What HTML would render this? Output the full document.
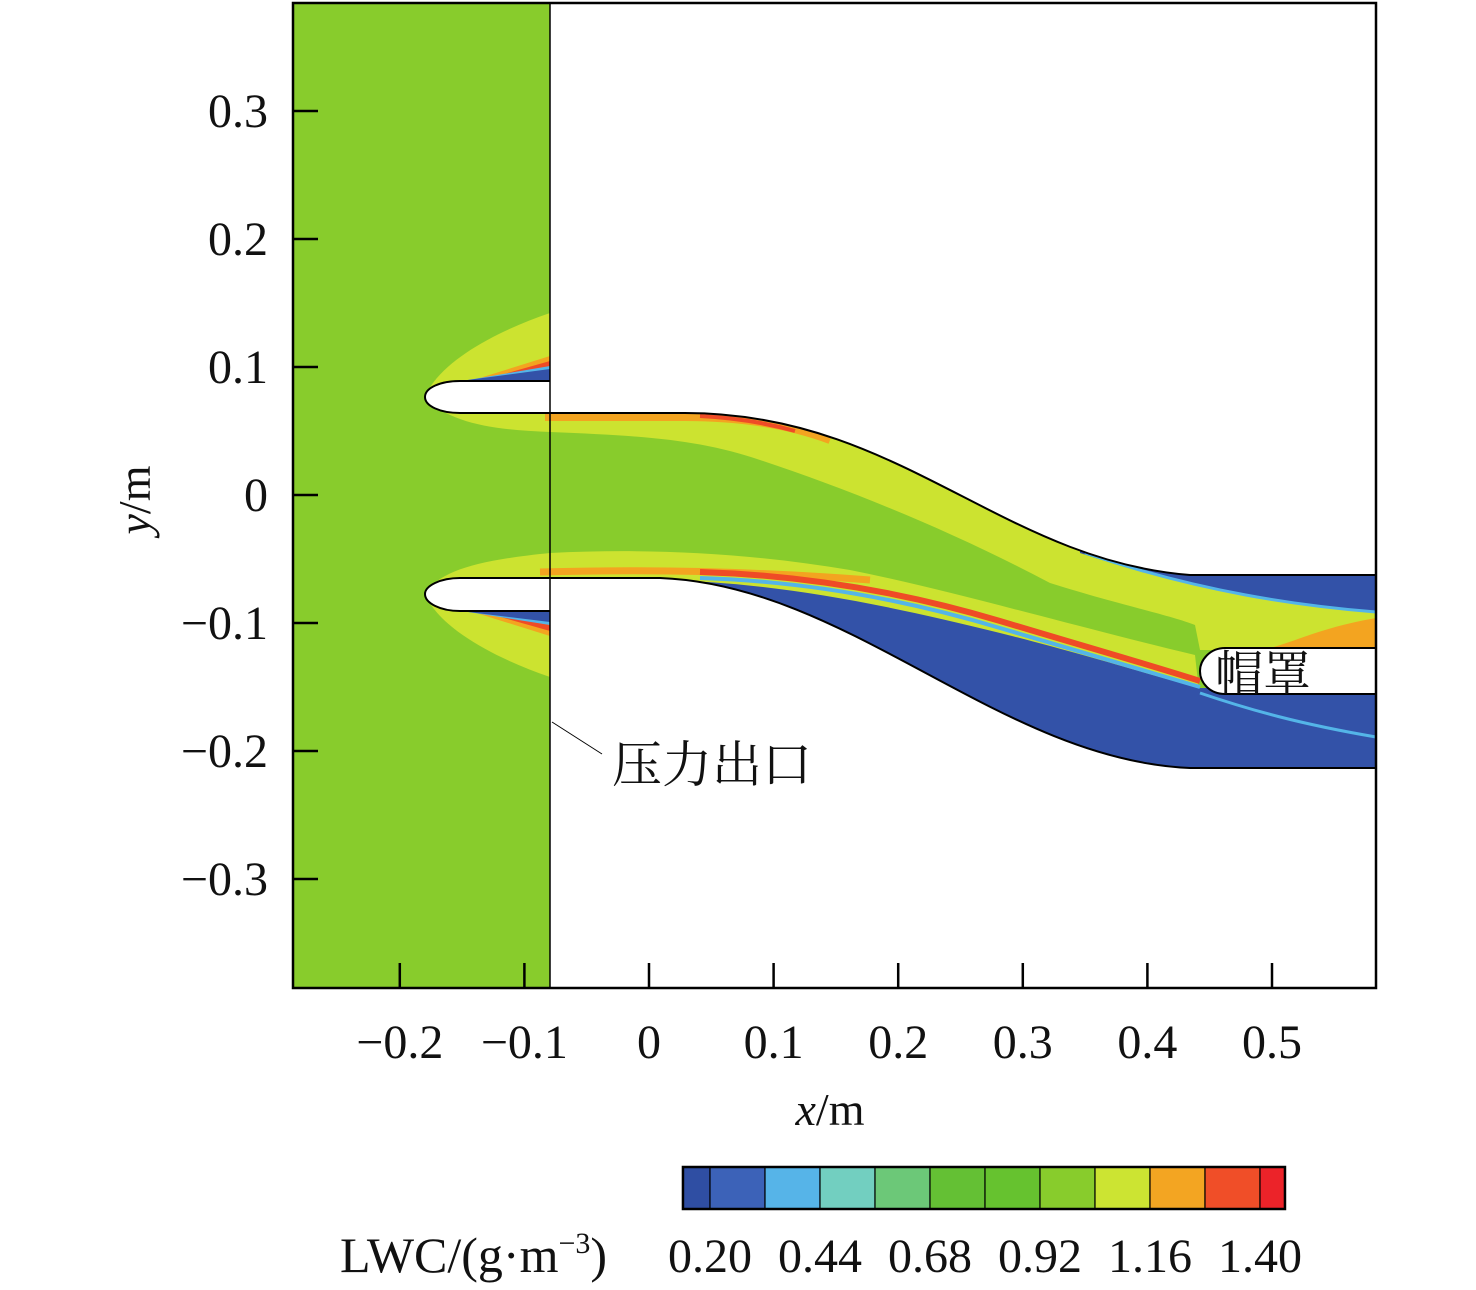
<!DOCTYPE html>
<html><head><meta charset="utf-8">
<style>
html,body{margin:0;padding:0;background:#fff;}
svg{display:block;}
text{font-family:"Liberation Serif","Noto Serif CJK SC",serif;fill:#111;}
</style></head>
<body>
<svg id="chart" width="1476" height="1290" viewBox="0 0 1476 1290" xmlns="http://www.w3.org/2000/svg">
<g id="field">
  <rect x="293" y="3" width="1083" height="985" fill="#88cc2c"/>
  <path d="M425,397 C440,360 500,330 550,313 L550,400 Z" fill="#cce330"/>
  <path d="M470,381 L550,356 L550,381 Z" fill="#f3a420"/>
  <path d="M490,378 L550,361 L550,368 Z" fill="#ef4b26"/>
  <path d="M462,381 L550,366 L550,381 Z" fill="#54b5e8"/>
  <path d="M460,381 L550,369 L550,381 Z" fill="#3352a8"/>
  <path d="M425,594 C440,630 500,660 550,677 L550,590 Z" fill="#cce330"/>
  <path d="M470,611 L550,636 L550,611 Z" fill="#f3a420"/>
  <path d="M490,614 L550,631 L550,625 Z" fill="#ef4b26"/>
  <path d="M462,611 L550,625 L550,611 Z" fill="#54b5e8"/>
  <path d="M460,611 L550,622 L550,611 Z" fill="#3352a8"/>
  <path d="M425,397 C450,425 500,430 550,432 C650,436 700,440 760,460 C850,490 950,530 1050,583 C1120,605 1170,615 1195,625 L1200,650 L1376,650 L1376,540 L600,380 Z" fill="#cce330"/>
  <path d="M545,417 L685,417 C740,417 790,425 830,440" fill="none" stroke="#f3a420" stroke-width="8"/>
  <path d="M700,416 C740,418 770,424 795,431" fill="none" stroke="#ef4b26" stroke-width="4"/>
  <path d="M425,594 C440,570 480,560 550,553 C650,548 750,553 850,570 C950,590 1050,620 1195,655 L1200,700 L660,600 L550,580 Z" fill="#cce330"/>
  <path d="M540,572 C650,569 750,571 870,580" fill="none" stroke="#f3a420" stroke-width="7"/>
  <path d="M660,580 C760,582 860,598 1000,633 C1080,653 1150,675 1200,688 L1376,688 L1376,775 L1190,775 C1000,760 850,585 660,578 Z" fill="#3352a8"/>
  <path d="M700,578 C800,581 900,598 1000,628 C1080,651 1150,672 1200,687" fill="none" stroke="#54b5e8" stroke-width="4"/>
  <path d="M700,572 C800,575 900,591 1000,621 C1080,645 1150,665 1200,681" fill="none" stroke="#ef4b26" stroke-width="6"/>
  <path d="M1200,693 C1250,710 1300,724 1376,737" fill="none" stroke="#54b5e8" stroke-width="3"/>
  <path d="M1080,550 C1150,570 1190,575 1376,575 L1376,612 C1300,606 1200,592 1080,553 Z" fill="#3352a8"/>
  <path d="M1085,553 C1200,592 1300,606 1376,612" fill="none" stroke="#54b5e8" stroke-width="3"/>
  <path d="M1270,648 C1300,640 1320,628 1376,618 L1376,648 Z" fill="#f3a420"/>
</g>
<path d="M550,3 L1376,3 L1376,575 L1190,575 C1000,560 900,413 685,413 L460,413 C440,413 425,406 425,397 C425,388 440,381 460,381 L550,381 Z" fill="#fff"/>
<path d="M550,381 L460,381 C440,381 425,388 425,397 C425,406 440,413 460,413 L685,413 C900,413 1000,560 1190,575 L1376,575" fill="none" stroke="#000" stroke-width="2"/>
<path d="M550,988 L1376,988 L1376,768 L1190,768 C1000,760 850,585 660,578 L460,578 C440,578 425,586 425,594 C425,603 440,611 460,611 L550,611 Z" fill="#fff"/>
<path d="M550,611 L460,611 C440,611 425,603 425,594 C425,586 440,578 460,578 L660,578 C850,585 1000,760 1190,768 L1376,768" fill="none" stroke="#000" stroke-width="2"/>
<line x1="550" y1="3" x2="550" y2="988" stroke="#000" stroke-width="1.5"/>
<path d="M1376,648 L1225,648 C1210,648 1200,660 1200,671 C1200,683 1210,694 1225,694 L1376,694" fill="#fff" stroke="#000" stroke-width="2"/>
<text x="1215" y="690" font-size="48">帽罩</text>
<line x1="552" y1="722" x2="602" y2="754" stroke="#000" stroke-width="1"/>
<text x="612" y="782" font-size="50">压力出口</text>
<rect x="293" y="3" width="1083" height="985" fill="none" stroke="#000" stroke-width="2.5"/>
<g id="axes"></g>
<g id="cbar"></g>
<text x="830" y="1125" font-size="46" text-anchor="middle"><tspan font-style="italic">x</tspan>/m</text>
<text transform="translate(150,500) rotate(-90)" font-size="46" text-anchor="middle"><tspan font-style="italic">y</tspan>/m</text>
<text x="340" y="1272" font-size="50">LWC/(g·m<tspan font-size="30" dy="-19">−3</tspan><tspan dy="19">)</tspan></text>
</svg>
<script>
const xTicks = [-0.2, -0.1, 0, 0.1, 0.2, 0.3, 0.4, 0.5];
const xTickLabels = ["−0.2", "−0.1", "0", "0.1", "0.2", "0.3", "0.4", "0.5"];
const yTicks = [0.3, 0.2, 0.1, 0, -0.1, -0.2, -0.3];
const yTickLabels = ["0.3", "0.2", "0.1", "0", "−0.1", "−0.2", "−0.3"];
const cbarColors = ["#2f4ea3","#3c62b8","#56b4e8","#72cfc0","#6cc878","#64c034","#66c22f","#88cc2c","#cce432","#f3a522","#f04e28","#ec2329"];
const cbarBounds = [0.141, 0.20, 0.32, 0.44, 0.56, 0.68, 0.80, 0.92, 1.04, 1.16, 1.28, 1.40, 1.4545];
const cbarLabelVals = [0.20, 0.44, 0.68, 0.92, 1.16, 1.40];
const cbarLabels = ["0.20", "0.44", "0.68", "0.92", "1.16", "1.40"];

const NS = "http://www.w3.org/2000/svg";
const X = v => 649 + v * 1246;
const Y = v => 495 - v * 1280;
const C = v => 710 + (v - 0.20) * 458.33;
const axes = document.getElementById('axes');
function mk(tag, attrs, parent) { const e = document.createElementNS(NS, tag); for (const k in attrs) e.setAttribute(k, attrs[k]); parent.appendChild(e); return e; }

xTicks.forEach((v, i) => {
  const t = mk('line', {x1: X(v), x2: X(v), y1: 988, y2: 963, stroke: '#000', 'stroke-width': 2.5}, axes);
  
  
  const l = mk('text', {x: X(v), y: 1058, 'font-size': 48, 'text-anchor': 'middle'}, axes);
  l.textContent = xTickLabels[i];
  
  
});
yTicks.forEach((v, i) => {
  const t = mk('line', {x1: 293, x2: 318, y1: Y(v), y2: Y(v), stroke: '#000', 'stroke-width': 2.5}, axes);
  
  
  const l = mk('text', {x: 268, y: Y(v) + 16, 'font-size': 48, 'text-anchor': 'end'}, axes);
  l.textContent = yTickLabels[i];
  
  
});
const cbar = document.getElementById('cbar');
cbarColors.forEach((c, i) => {
  const r = mk('rect', {x: C(cbarBounds[i]), y: 1167, width: C(cbarBounds[i+1]) - C(cbarBounds[i]), height: 42, fill: c, stroke: '#000', 'stroke-width': 1.2}, cbar);
  
  
});
const fr = mk('rect', {x: C(cbarBounds[0]), y: 1167, width: C(cbarBounds[cbarBounds.length-1]) - C(cbarBounds[0]), height: 42, fill: 'none', stroke: '#000', 'stroke-width': 2.5}, cbar);


cbarLabelVals.forEach((v, i) => {
  const l = mk('text', {x: C(v), y: 1272, 'font-size': 48, 'text-anchor': 'middle'}, cbar);
  l.textContent = cbarLabels[i];
  
  
});
</script>
</body></html>
